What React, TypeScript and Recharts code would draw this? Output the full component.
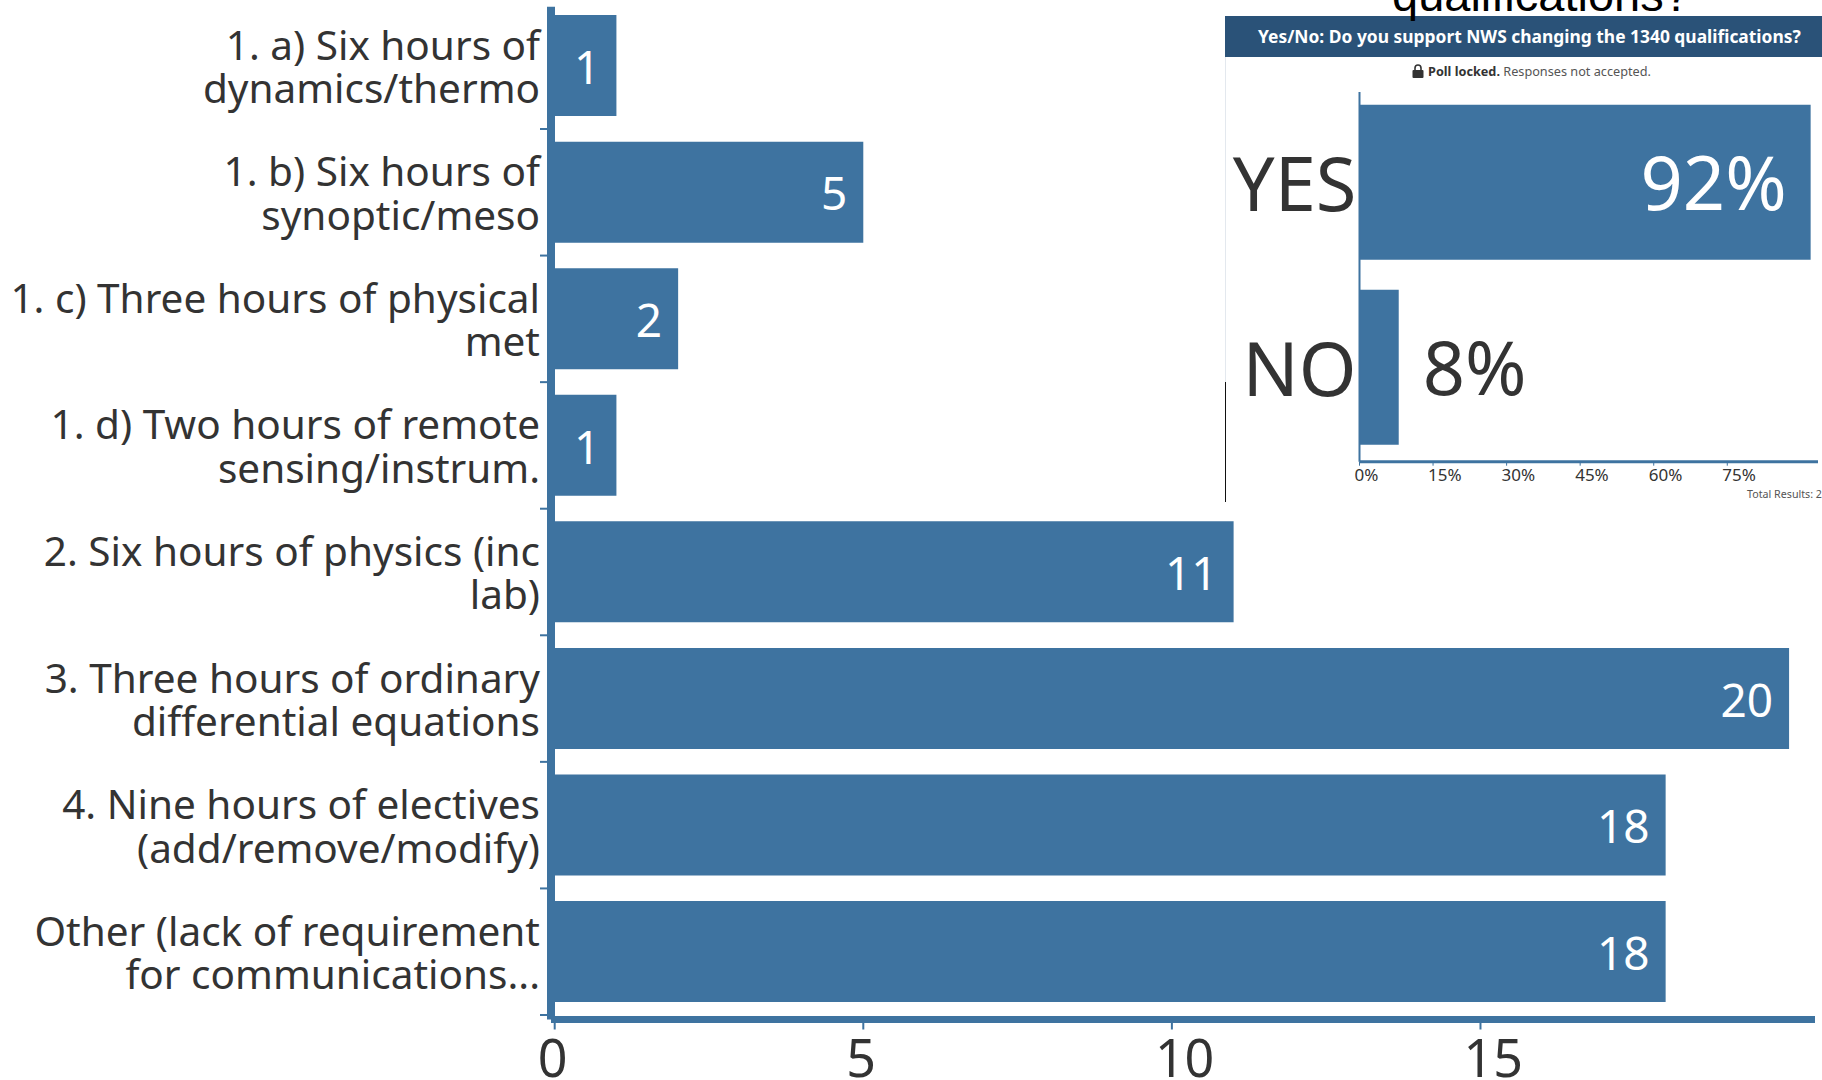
import React from 'react';
import { BarChart, Bar, XAxis, YAxis, LabelList } from 'recharts';

const courseLabels = [
  '1. a) Six hours of\ndynamics/thermo',
  '1. b) Six hours of\nsynoptic/meso',
  '1. c) Three hours of physical\nmet',
  '1. d) Two hours of remote\nsensing/instrum.',
  '2. Six hours of physics (inc\nlab)',
  '3. Three hours of ordinary\ndifferential equations',
  '4. Nine hours of electives\n(add/remove/modify)',
  'Other (lack of requirement\nfor communications...',
];
const courseCounts = [1, 5, 2, 1, 11, 20, 18, 18];
const countTicks = [0, 5, 10, 15];

const pollLabels = ['YES', 'NO'];
const pollShares = [92, 8];
const shareTicks = [0, 15, 30, 45, 60, 75];

const courseData = courseLabels.map((label, i) => ({ label, count: courseCounts[i] }));
const pollData = pollLabels.map((label, i) => ({ label, share: pollShares[i] }));

const BLUE = '#3e73a0';
const INK = '#333333';
const FONT = '"Noto Sans", sans-serif';
const COURSE_BAND = 126.6;
const POLL_BAND = 185;

// category label plus the short tick on the band's lower boundary
const CourseTick = ({ x, y, payload }: any) => {
  const lines = String(payload.value).split('\n');
  return (
    <g>
      <line x1={540} x2={548} y1={y + COURSE_BAND / 2} y2={y + COURSE_BAND / 2} stroke={BLUE} strokeWidth={2} />
      {lines.map((line, i) => (
        <text key={i} x={x} y={y - 6 + i * 43.5} textAnchor="end" fontSize={40.5} fontFamily={FONT} fill={INK}>
          {line}
        </text>
      ))}
    </g>
  );
};

const CountTick = ({ x, y, payload }: any) => (
  <text x={x - 17} y={y + 45} textAnchor="start" fontSize={52} fontFamily={FONT} fill={INK}>
    {payload.value}
  </text>
);

const PollTick = ({ x, y, payload }: any) => (
  <g>
    <line x1={1355} x2={1358} y1={y + POLL_BAND / 2} y2={y + POLL_BAND / 2} stroke={BLUE} strokeWidth={2} />
    <text x={x + 4} y={y + 28} textAnchor="end" fontSize={74} fontFamily={FONT} fill={INK}>
      {payload.value}
    </text>
  </g>
);

const ShareTick = ({ x, y, payload }: any) => (
  <text x={x - 5} y={y + 13} textAnchor="start" fontSize={17} fontFamily={FONT} fill={INK}>
    {payload.value}%
  </text>
);

// large shares sit inside the bar in white, small ones just past its end
const ShareLabel = ({ x, y, width, height, value }: any) => {
  const inside = value > 50;
  return (
    <text
      x={inside ? x + width - 24 : x + width + 24}
      y={y + height / 2 + 28}
      textAnchor={inside ? 'end' : 'start'}
      fontSize={74}
      fontFamily={FONT}
      fill={inside ? '#ffffff' : INK}
    >
      {value}%
    </text>
  );
};

const LockIcon = () => (
  <svg width={12} height={14} viewBox="0 0 12 14" style={{ verticalAlign: '-2px', marginRight: 4 }}>
    <path d="M3 6V4a3 3 0 0 1 6 0v2" fill="none" stroke={INK} strokeWidth={1.6} />
    <rect x={0.5} y={6} width={11} height={8} rx={1} fill={INK} />
  </svg>
);

export default function App() {
  return (
    <div style={{ position: 'absolute', left: 0, top: 0, width: 1822, height: 1080, overflow: 'hidden', background: '#fff', fontFamily: FONT }}>
      <BarChart
        width={1822}
        height={1080}
        data={courseData}
        layout="vertical"
        margin={{ top: 6.7, right: 7, bottom: 0, left: 0 }}
        barCategoryGap="10%"
      >
        <XAxis
          type="number"
          dataKey="count"
          domain={[0, 20.42]}
          ticks={countTicks}
          height={60.5}
          padding={{ left: 3.7, right: 0 }}
          axisLine={{ stroke: BLUE, strokeWidth: 7 }}
          tickLine={{ stroke: BLUE, strokeWidth: 2 }}
          tickSize={10}
          tick={<CountTick />}
          interval={0}
        />
        <Bar dataKey="count" fill={BLUE} isAnimationActive={false}>
          <LabelList dataKey="count" position="insideRight" offset={16} dy={2} fill="#ffffff" fontSize={46} fontFamily={FONT} />
        </Bar>
        <YAxis
          type="category"
          dataKey="label"
          width={551}
          padding={{ top: -4.3, bottom: 4.5 }}
          axisLine={{ stroke: BLUE, strokeWidth: 8 }}
          tickLine={false}
          tickSize={11}
          tickMargin={0}
          tick={<CourseTick />}
          interval={0}
        />
      </BarChart>

      {/* poll panel laid over the corner of the main chart */}
      <div style={{ position: 'absolute', left: 1225, top: 16, width: 597, height: 487, background: '#fff' }}>
        <div style={{ position: 'absolute', left: 0, top: 0, width: 597, height: 41, paddingLeft: 33, boxSizing: 'border-box', background: '#2a5278', color: '#fff', fontWeight: 700, fontSize: 17.4, lineHeight: '41px', whiteSpace: 'nowrap' }}>
          Yes/No: Do you support NWS changing the 1340 qualifications?
        </div>
        <div style={{ position: 'absolute', left: 0, top: 41, width: 1, height: 325, background: '#e3e8ee' }} />
        <div style={{ position: 'absolute', left: 0, top: 366, width: 1, height: 120, background: '#111' }} />
        <div style={{ position: 'absolute', left: 187, top: 46, fontSize: 12.7, lineHeight: '18px', color: '#555', whiteSpace: 'nowrap' }}>
          <LockIcon />
          <b style={{ color: INK }}>Poll locked.</b> Responses not accepted.
        </div>
        <div style={{ position: 'absolute', left: 0, top: 41 }}>
          <BarChart
            width={597}
            height={446}
            data={pollData}
            layout="vertical"
            margin={{ top: 35, right: 4, bottom: 0, left: 0 }}
            barCategoryGap="8%"
          >
            <XAxis
              type="number"
              dataKey="share"
              domain={[0, 93.5]}
              ticks={shareTicks}
              height={41.3}
              axisLine={{ stroke: BLUE, strokeWidth: 3 }}
              tickLine={{ stroke: BLUE, strokeWidth: 1 }}
              tickSize={4}
              tick={<ShareTick />}
              interval={0}
            />
            <YAxis
              type="category"
              dataKey="label"
              width={134.5}
              padding={{ top: -2, bottom: 1.7 }}
              axisLine={{ stroke: BLUE, strokeWidth: 2 }}
              tickLine={false}
              tickSize={7}
              tickMargin={0}
              tick={<PollTick />}
              interval={0}
            />
            <Bar dataKey="share" fill={BLUE} isAnimationActive={false}>
              <LabelList dataKey="share" content={<ShareLabel />} />
            </Bar>
          </BarChart>
        </div>
        <div style={{ position: 'absolute', right: 0, top: 471, fontSize: 10.7, lineHeight: '14px', color: '#555', whiteSpace: 'nowrap' }}>
          Total Results: 2
        </div>
      </div>

      {/* heading that runs off the top of the page, its descender lying over the poll header */}
      <div style={{ position: 'absolute', left: 1392, top: -37, fontFamily: '"Liberation Sans", sans-serif', fontSize: 47, lineHeight: '64px', color: '#000', whiteSpace: 'nowrap' }}>
        qualifications?
      </div>
    </div>
  );
}
